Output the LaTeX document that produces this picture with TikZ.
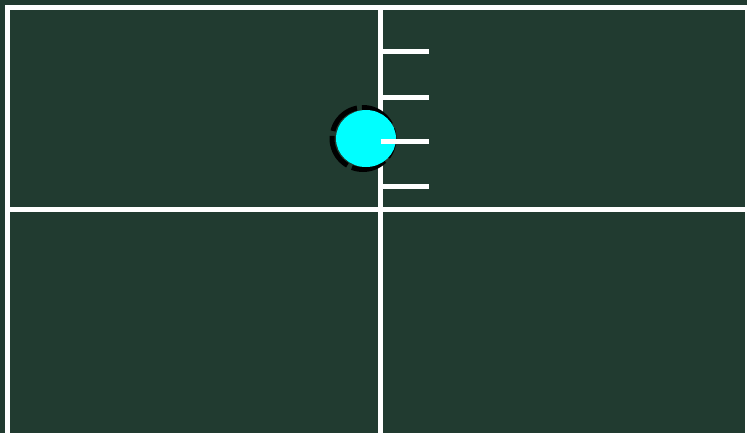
\documentclass[tikz,border=0pt]{standalone}
\usepackage{tikz}

\definecolor{board}{HTML}{213B30}
\definecolor{puck}{HTML}{00FFFF}

\begin{document}
\begin{tikzpicture}[x=0.02cm, y=-0.02cm,
    % chalk lines are 5px wide in the reference
    chalk/.style={draw=white, line width=0.1cm},
    tickmark/.style={draw=white, line width=0.1cm},
    puckrim/.style={draw=black, line width=0.1cm,
                    dash pattern=on 0.7cm off 0.1cm, dash phase=0.3cm},
    puckfill/.style={fill=puck}]

  % ---- the board
  \useasboundingbox (0,0) rectangle (747,433);
  \fill[board] (0,0) rectangle (747,433);
  \clip (0,0) rectangle (747,433);

  % ---- corners and centre of the grid
  \coordinate (tl) at (7.5,7.5);
  \coordinate (br) at (747.5,440);
  \coordinate (top) at (380.5,7.5);
  \coordinate (bot) at (380.5,440);
  \coordinate (lft) at (7.5,209.5);
  \coordinate (rgt) at (747.5,209.5);

  \draw[chalk] (tl) rectangle (br);
  \draw[chalk] (top) -- (bot);
  \draw[chalk] (lft) -- (rgt);

  % ---- the marker
  \draw[puckrim] (363,138.5) circle (31);
  \fill[puckfill] (366,138.5) ellipse (30 and 28.5);

  % ---- ticks on the centre line
  \foreach \ty/\tn in {51.5/a, 97/b, 141.5/c, 186.5/d} {
    \coordinate (t\tn0) at (380.5,\ty);
    \coordinate (t\tn1) at (429,\ty);
    \draw[tickmark] (t\tn0) -- (t\tn1);
  }
\end{tikzpicture}
\end{document}
